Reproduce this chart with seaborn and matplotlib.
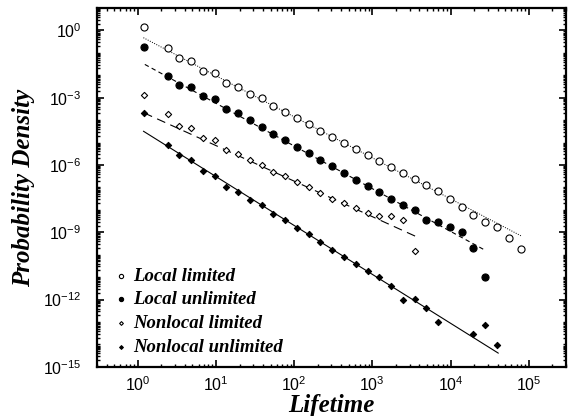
import numpy as np
import pandas as pd
import matplotlib
matplotlib.use("Agg")
import matplotlib.pyplot as plt
import seaborn as sns
from matplotlib.ticker import LogLocator, NullFormatter

# ---------------- data ----------------
lifetime_bins = [1.2, 2.4, 3.4, 4.8, 6.8, 9.6, 13.6, 19.2, 27.2, 38.4, 54.3, 76.8,
                 109, 154, 217, 307, 434, 614, 869, 1229, 1738, 2458, 3476, 4916,
                 6952, 9832, 13904, 19663, 27808, 39326, 55615, 78651]

local_limited_x = lifetime_bins[:32]
local_limited_y = [1.46, 0.158, 0.060, 0.043, 0.016, 0.012, 4.3e-3, 3.1e-3, 1.4e-3, 9.2e-4,
                   4.2e-4, 2.35e-4, 1.27e-4, 6.8e-5, 3.4e-5, 1.8e-5, 9.7e-6, 5.2e-6, 2.8e-6,
                   1.47e-6, 8.3e-7, 4.3e-7, 2.4e-7, 1.3e-7, 6.7e-8, 3.2e-8, 1.4e-8, 6.1e-9,
                   3.0e-9, 1.7e-9, 5.3e-10, 1.8e-10]

local_unlimited_x = lifetime_bins[:29]
local_unlimited_y = [0.187, 9.1e-3, 3.5e-3, 2.9e-3, 1.17e-3, 8.9e-4, 3.2e-4, 2.1e-4, 9.6e-5,
                     5.0e-5, 2.3e-5, 1.27e-5, 6.2e-6, 3.5e-6, 1.6e-6, 8.7e-7, 4.4e-7, 2.2e-7,
                     1.1e-7, 6.0e-8, 2.9e-8, 1.66e-8, 9.7e-9, 3.7e-9, 2.8e-9, 1.8e-9, 1.03e-9,
                     2.0e-10, 9.8e-12]

nonlocal_limited_x = lifetime_bins[:23]
nonlocal_limited_y = [1.26e-3, 1.78e-4, 5.7e-5, 4.5e-5, 1.6e-5, 1.27e-5, 4.5e-6, 3.2e-6, 1.6e-6,
                      1.04e-6, 4.9e-7, 3.1e-7, 1.7e-7, 1.0e-7, 5.7e-8, 3.2e-8, 2.0e-8, 1.2e-8,
                      7.2e-9, 5.5e-9, 5.1e-9, 3.4e-9, 1.5e-10]

nonlocal_unlimited_x = lifetime_bins[:25] + [19663, 27808, 39326]
nonlocal_unlimited_y = [2.1e-4, 7.6e-6, 2.7e-6, 1.6e-6, 5.2e-7, 3.1e-7, 1.05e-7, 6.0e-8, 2.7e-8,
                        1.6e-8, 6.8e-9, 3.7e-9, 1.55e-9, 8.4e-10, 3.7e-10, 1.67e-10, 7.9e-11,
                        3.8e-11, 1.8e-11, 9.7e-12, 4.1e-12, 9.8e-13, 1.1e-12, 4.4e-13, 1.05e-13,
                        2.8e-14, 7.3e-14, 9.3e-15]

# power-law fit lines (end points)
fit_local_limited_x = [1.18, 81900]
fit_local_limited_y = [0.47, 6.6e-10]
fit_local_unlimited_x = [1.23, 28500]
fit_local_unlimited_y = [0.0303, 1.5e-10]
fit_nonlocal_limited_x = [1.2, 3580]
fit_nonlocal_limited_y = [2.1e-4, 6.6e-10]
fit_nonlocal_unlimited_x = [1.18, 40900]
fit_nonlocal_unlimited_y = [3.2e-5, 4.1e-15]

labels = ["Local limited", "Local unlimited", "Nonlocal limited", "Nonlocal unlimited"]
x_ticks = [1, 10, 100, 1000, 10000, 100000]
y_ticks = [1e-15, 1e-12, 1e-9, 1e-6, 1e-3, 1e0]

# ---------------- style ----------------
sns.set_theme(style="ticks")
plt.rcParams["font.family"] = ["Liberation Sans", "DejaVu Sans"]
plt.rcParams["mathtext.fontset"] = "custom"
plt.rcParams["mathtext.rm"] = "Liberation Sans"
plt.rcParams["mathtext.it"] = "Liberation Sans:italic"
plt.rcParams["mathtext.bf"] = "Liberation Sans:bold"
for k in ["text.color", "axes.labelcolor", "xtick.color", "ytick.color", "axes.edgecolor"]:
    plt.rcParams[k] = "black"

fig = plt.figure(figsize=(5.70, 4.16), dpi=100)
ax = fig.add_axes([0.170, 0.118, 0.823, 0.863])

# fit lines
line_specs = [
    (fit_local_limited_x, fit_local_limited_y, (0, (1, 1.5)), 0.7),
    (fit_local_unlimited_x, fit_local_unlimited_y, (0, (4, 3)), 0.8),
    (fit_nonlocal_limited_x, fit_nonlocal_limited_y, (0, (8, 5)), 0.8),
    (fit_nonlocal_unlimited_x, fit_nonlocal_unlimited_y, "-", 0.8),
]
for fx, fy, ls, lw in line_specs:
    sns.lineplot(x=fx, y=fy, ax=ax, color="black", linestyle=ls, linewidth=lw,
                 legend=False, zorder=2)

series = [
    (local_limited_x, local_limited_y, "o", "white", 26),
    (local_unlimited_x, local_unlimited_y, "o", "black", 26),
    (nonlocal_limited_x, nonlocal_limited_y, "D", "white", 10),
    (nonlocal_unlimited_x, nonlocal_unlimited_y, "D", "black", 10),
]
for (sx, sy, mk, fc, s), lab in zip(series, labels):
    df = pd.DataFrame({"x": sx, "y": sy})
    sns.scatterplot(data=df, x="x", y="y", ax=ax, marker=mk, s=s, facecolor=fc,
                    edgecolor="black", linewidth=0.8, label=lab, zorder=3)

ax.set_xscale("log")
ax.set_yscale("log")
ax.set_xlim(0.3, 3e5)
ax.set_ylim(1e-15, 1e1)
ax.set_xticks(x_ticks)
ax.set_yticks(y_ticks)
ax.xaxis.set_minor_locator(LogLocator(base=10, subs=np.arange(2, 10), numticks=100))
ax.yaxis.set_minor_locator(LogLocator(base=10, subs=np.arange(1, 10), numticks=200))
ax.xaxis.set_minor_formatter(NullFormatter())
ax.yaxis.set_minor_formatter(NullFormatter())

for sp in ax.spines.values():
    sp.set_visible(True)
    sp.set_linewidth(1.6)
    sp.set_color("black")

ax.tick_params(which="both", direction="in", top=True, right=True, color="black")
ax.tick_params(axis="x", which="major", length=5, width=1.2, labelsize=11.5, pad=6)
ax.tick_params(axis="y", which="major", length=5, width=1.2, labelsize=11.5, pad=11)
ax.tick_params(which="minor", length=2.5, width=1.0)

lab_font = dict(family=["Liberation Serif", "DejaVu Serif"], weight="bold",
                style="italic", size=18)
ax.set_xlabel("Lifetime", fontdict=lab_font, labelpad=0)
ax.set_ylabel("Probability Density", fontdict=lab_font, labelpad=6)

leg = ax.legend(loc="lower left", bbox_to_anchor=(0.0, -0.005), frameon=False,
                markerscale=0.6, handletextpad=0.05, labelspacing=0.35,
                borderaxespad=0.3, handlelength=1.2,
                prop=dict(family=["Liberation Serif", "DejaVu Serif"], weight="bold",
                          style="italic", size=13.5))

fig.savefig("out.png", dpi=100)
